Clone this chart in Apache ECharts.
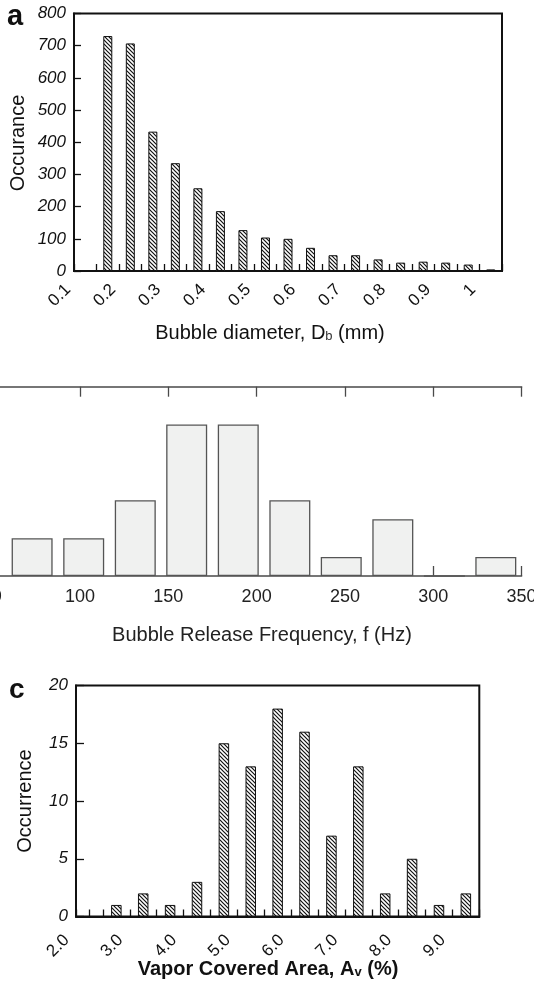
<!DOCTYPE html>
<html style="height: 100%">
<head>
<meta charset="utf-8" />
<title>Bubble statistics</title>
<script src="https://cdn.jsdelivr.net/npm/echarts@6/dist/echarts.min.js"></script>
</head>
<body style="height: 100%; margin: 0; background: #fff">
<div id="main" style="width: 534px; height: 987px"></div>
<script>
// (a) bubble diameter, mm
var diamBins = [0.2, 0.25, 0.3, 0.35, 0.4, 0.45, 0.5, 0.55, 0.6, 0.65, 0.7, 0.75, 0.8, 0.85, 0.9, 0.95, 1.0, 1.05];
var diamCounts = [730, 707, 433, 335, 257, 186, 127, 104, 100, 72, 49, 49, 36, 26, 29, 26, 20, 5];
// (b) bubble release frequency, Hz (bin centres)
var freqBins = [72.9, 102.1, 131.3, 160.4, 189.6, 218.8, 247.9, 277.1, 306.3, 335.4];
var freqCounts = [2, 2, 4, 8, 8, 4, 1, 3, 0, 1];
// (c) vapor covered area, %
var areaBins = [3.0, 3.5, 4.0, 4.5, 5.0, 5.5, 6.0, 6.5, 7.0, 7.5, 8.0, 8.5, 9.0, 9.5];
var areaCounts = [1, 2, 1, 3, 15, 13, 18, 16, 7, 13, 2, 5, 1, 2];

var FONT = '"Liberation Sans", Arial, Helvetica, sans-serif';

function pairs(xs, ys) {
  return xs.map(function (x, i) { return [x, ys[i]]; });
}

// diagonal hatching like the printed figure
function hatch() {
  var c = document.createElement('canvas');
  c.width = 4; c.height = 4;
  var g = c.getContext('2d');
  g.fillStyle = '#fff';
  g.fillRect(0, 0, 4, 4);
  g.strokeStyle = '#111';
  g.lineWidth = 1.2;
  g.beginPath();
  g.moveTo(-1, -1); g.lineTo(5, 5);
  g.moveTo(-1, 3); g.lineTo(1, 5);
  g.moveTo(3, -1); g.lineTo(5, 1);
  g.stroke();
  return c;
}
var hatchFill = { image: hatch(), repeat: 'repeat' };

function txt(x, y, text, size, extra) {
  var st = {
    text: text, x: 0, y: 0, fill: '#111',
    fontSize: size, fontFamily: FONT,
    align: 'center', verticalAlign: 'middle',
    textAlign: 'center', textVerticalAlign: 'middle'
  };
  for (var k in (extra || {})) st[k] = extra[k];
  return { type: 'text', x: x, y: y, rotation: st.rot || 0, style: st, silent: true };
}

var black = { lineStyle: { color: '#111', width: 2 } };
var grey = { lineStyle: { color: '#4a4a4a', width: 1.5 } };

function grid(o) {
  o.outerBoundsMode = 'none';
  o.containLabel = false;
  return o;
}

var chart = echarts.init(document.getElementById('main'));
var option = {
  animation: false,
  backgroundColor: '#fff',
  grid: [
    grid({ left: 74, right: 32, top: 13.5, height: 257.5, show: true, borderColor: '#111', borderWidth: 2 }),
    grid({ left: 68, right: 27, top: 13.5, height: 257.5 }),
    grid({ left: -96.65, right: 12.4, top: 386.7, height: 189.3 }),
    grid({ left: 76, right: 54.7, top: 685.5, height: 231, show: true, borderColor: '#111', borderWidth: 2 }),
    grid({ left: 66.5, right: 50.7, top: 685.5, height: 231 })
  ],
  xAxis: [
    { gridIndex: 0, type: 'value', min: 0.125, max: 1.075, interval: 0.05,
      axisLine: black, axisTick: { inside: true, length: 7, lineStyle: { color: '#111', width: 1.3 } },
      axisLabel: { show: false }, splitLine: { show: false } },
    { gridIndex: 1, type: 'value', min: 0.1, max: 1.075, interval: 0.1,
      axisLine: { show: false }, axisTick: { show: false }, splitLine: { show: false },
      axisLabel: { rotate: 45, margin: 16, fontSize: 17, color: '#111', fontFamily: FONT, showMaxLabel: false } },
    { gridIndex: 2, type: 'value', min: 0, max: 350, interval: 50,
      axisLine: grey, axisTick: { inside: true, length: 10, lineStyle: { color: '#4a4a4a', width: 1.3 } },
      splitLine: { show: false },
      axisLabel: { margin: 12, fontSize: 18, color: '#222', fontFamily: FONT } },
    { gridIndex: 2, type: 'value', position: 'top', min: 0, max: 350, interval: 50,
      axisLine: grey, axisTick: { inside: true, length: 10, lineStyle: { color: '#4a4a4a', width: 1.3 } },
      axisLabel: { show: false }, splitLine: { show: false } },
    { gridIndex: 3, type: 'value', min: 2.25, max: 9.75, interval: 0.25,
      axisLine: black, axisTick: { inside: true, length: 7, lineStyle: { color: '#111', width: 1.3 } },
      axisLabel: { show: false }, splitLine: { show: false } },
    { gridIndex: 4, type: 'value', min: 2, max: 9.75, interval: 1,
      axisLine: { show: false }, axisTick: { show: false }, splitLine: { show: false },
      axisLabel: { rotate: 45, margin: 21, fontSize: 17, color: '#111', fontFamily: FONT, showMaxLabel: false,
        formatter: function (v) { return v.toFixed(1); } } }
  ],
  yAxis: [
    { gridIndex: 0, type: 'value', min: 0, max: 800, interval: 100,
      axisLine: black, axisTick: { inside: true, length: 7, lineStyle: { color: '#111', width: 1.3 } },
      splitLine: { show: false },
      axisLabel: { margin: 8, fontSize: 17, fontStyle: 'italic', color: '#111', fontFamily: FONT } },
    { gridIndex: 1, type: 'value', min: 0, max: 800, show: false },
    { gridIndex: 2, type: 'value', position: 'right', min: 0, max: 10, interval: 5,
      axisLine: grey, axisTick: { inside: true, length: 6, lineStyle: { color: '#222', width: 1.5 } },
      axisLabel: { show: false }, splitLine: { show: false } },
    { gridIndex: 3, type: 'value', min: 0, max: 20, interval: 5,
      axisLine: black, axisTick: { inside: true, length: 8, lineStyle: { color: '#111', width: 1.3 } },
      splitLine: { show: false },
      axisLabel: { margin: 8, fontSize: 17, fontStyle: 'italic', color: '#111', fontFamily: FONT } },
    { gridIndex: 4, type: 'value', min: 0, max: 20, show: false }
  ],
  series: [
    { type: 'bar', xAxisIndex: 0, yAxisIndex: 0, barWidth: 9, data: pairs(diamBins, diamCounts),
      itemStyle: { color: hatchFill, borderColor: '#111', borderWidth: 1 } },
    { type: 'bar', xAxisIndex: 2, yAxisIndex: 2, barWidth: 41, data: pairs(freqBins, freqCounts),
      itemStyle: { color: '#f0f1f0', borderColor: '#555', borderWidth: 1.3 } },
    { type: 'bar', xAxisIndex: 4, yAxisIndex: 3, barWidth: 10.5, data: pairs(areaBins, areaCounts),
      itemStyle: { color: hatchFill, borderColor: '#111', borderWidth: 1 } }
  ],
  graphic: [
    txt(7, 17, 'a', 29, { fontWeight: 'bold', align: 'left', textAlign: 'left' }),
    txt(18, 143, 'Occurance', 20, { rot: Math.PI / 2 }),
    txt(270, 333, 'Bubble diameter, D{s|b} (mm)', 20,
      { rich: { s: { fontSize: 13, fontFamily: FONT, fill: '#333', verticalAlign: 'bottom', lineHeight: 13 } } }),
    txt(262, 635, 'Bubble Release Frequency, f (Hz)', 20, { fill: '#222' }),
    txt(9, 690, 'c', 28, { fontWeight: 'bold', align: 'left', textAlign: 'left' }),
    txt(25, 801, 'Occurrence', 20, { rot: Math.PI / 2 }),
    txt(268, 969, 'Vapor Covered Area, A{s|v} (%)', 20,
      { fontWeight: 'bold', rich: { s: { fontSize: 13, fontWeight: 'bold', fontFamily: FONT, fill: '#111', verticalAlign: 'bottom', lineHeight: 13 } } })
  ]
};
chart.setOption(option);
window.addEventListener('resize', function () { chart.resize(); });
</script>
</body>
</html>
